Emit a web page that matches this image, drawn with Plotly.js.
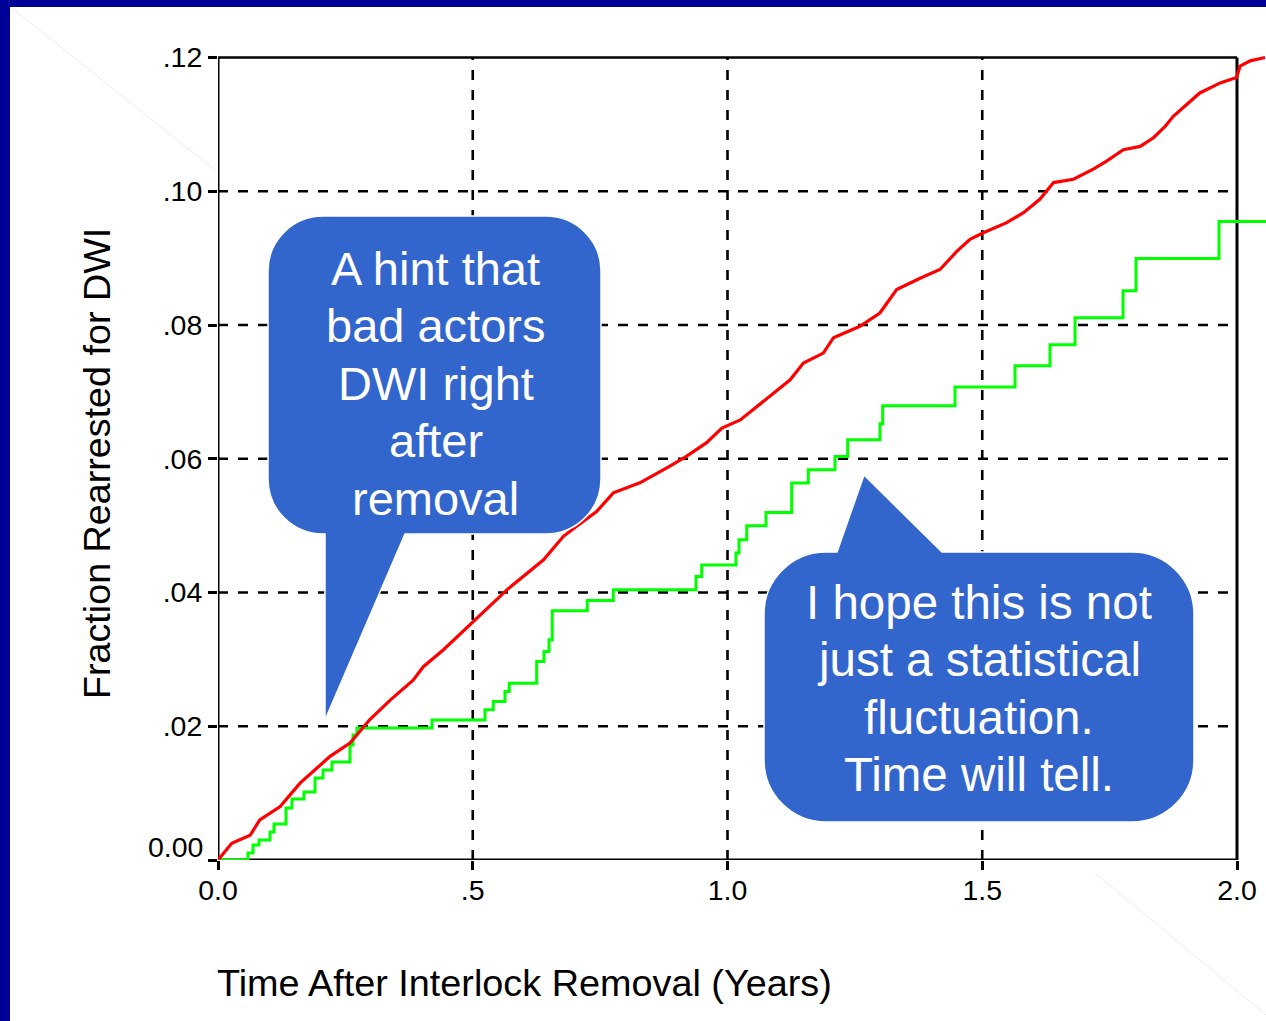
<!DOCTYPE html>
<html>
<head>
<meta charset="utf-8">
<script src="https://cdn.plot.ly/plotly-3.0.1.min.js"></script>
<style>
  html, body { margin: 0; padding: 0; background: #ffffff; }
  #chart { width: 1266px; height: 1021px; }
</style>
</head>
<body>
<div id="chart"></div>
<script>
// ---- Data ----
const xTickVals = [0, 0.5, 1.0, 1.5, 2.0];
const xTickText = ["0.0", ".5", "1.0", "1.5", "2.0"];
const yTickVals = [0, 0.02, 0.04, 0.06, 0.08, 0.10, 0.12];
const yTickText = ["", ".02", ".04", ".06", ".08", ".10", ".12"];
const yZeroLabel = "0.00";

// red series (all removals)
const redX = [0.000, 0.027, 0.063, 0.082, 0.122, 0.161, 0.220, 0.259, 0.298, 0.338,
  0.383, 0.403, 0.442, 0.498, 0.567, 0.639, 0.678, 0.704, 0.743, 0.776,
  0.828, 0.887, 0.920, 0.959, 0.989, 1.025, 1.057, 1.090, 1.123, 1.149,
  1.188, 1.208, 1.247, 1.260, 1.299, 1.332, 1.378, 1.417, 1.450, 1.476,
  1.502, 1.548, 1.581, 1.613, 1.640, 1.679, 1.718, 1.744, 1.777, 1.810,
  1.836, 1.859, 1.875, 1.895, 1.927, 1.967, 1.999, 2.006, 2.026, 2.055];
const redY = [0.0000, 0.0025, 0.0037, 0.0060, 0.0080, 0.0115, 0.0155, 0.0175, 0.0210, 0.0239,
  0.0269, 0.0289, 0.0314, 0.0354, 0.0404, 0.0449, 0.0484, 0.0499, 0.0521, 0.0549,
  0.0564, 0.0589, 0.0604, 0.0624, 0.0646, 0.0658, 0.0678, 0.0698, 0.0718, 0.0743,
  0.0758, 0.0781, 0.0793, 0.0798, 0.0818, 0.0853, 0.0870, 0.0883, 0.0910, 0.0928,
  0.0938, 0.0953, 0.0968, 0.0988, 0.1013, 0.1018, 0.1033, 0.1045, 0.1062, 0.1067,
  0.1080, 0.1097, 0.1112, 0.1125, 0.1147, 0.1162, 0.1170, 0.1187, 0.1195, 0.1200];

// green series (step function)
const greenX = [0.004, 0.0589, 0.0687, 0.0805, 0.1021, 0.1099, 0.1335, 0.1452, 0.1688, 0.1904,
  0.2061, 0.2237, 0.2591, 0.2650, 0.2728, 0.4200, 0.5240, 0.5403, 0.5633, 0.5717,
  0.6255, 0.6398, 0.6497, 0.6561, 0.7248, 0.7759, 0.9382, 0.9494, 1.0167, 1.0226,
  1.0377, 1.0756, 1.1260, 1.1586, 1.2110, 1.2359, 1.2993, 1.3046, 1.4465, 1.5643,
  1.6330, 1.6821, 1.7763, 1.8018, 1.9647, 2.057];
const greenY = [0, 0.00105, 0.00224, 0.00299, 0.00419, 0.00539, 0.00778, 0.00913, 0.01018, 0.01227,
  0.01347, 0.01466, 0.01721, 0.01870, 0.01975, 0.02095, 0.02245, 0.02369, 0.02518, 0.02644,
  0.02967, 0.03117, 0.03292, 0.03726, 0.03880, 0.04040, 0.04239, 0.04410, 0.04589, 0.04788,
  0.04998, 0.05197, 0.05637, 0.05836, 0.06035, 0.06285, 0.06524, 0.06793, 0.07073, 0.07392,
  0.07706, 0.08110, 0.08514, 0.08993, 0.09547, 0.09547];

const xTitle = "Time After Interlock Removal (Years)";
const yTitle = "Fraction Rearrested for DWI";
const leftCalloutLines = ["A hint that", "bad actors", "DWI right", "after", "removal"];
const rightCalloutLines = ["I hope this is not", "just a statistical", "fluctuation.", "Time will tell."];

// ---- Layout geometry ----
const W = 1266, H = 1021;
const M = {l: 218, r: 0, t: 48, b: 161};
const PW = W - M.l - M.r, PH = H - M.t - M.b;
const xMax = 2.0 * PW / (1237 - 218);
const yMax = 0.12 * PH / (860 - 57.5);
const px = v => (v - M.l) / PW;          // pixel x -> paper
const py = v => (H - M.b - v) / PH;      // pixel y -> paper
const FONT = '"Liberation Sans", Arial, Helvetica, sans-serif';
const CALLOUT = '#3366CC';
const NAVY = '#000099';

function pt(x, y) { return px(x).toFixed(5) + ',' + py(y).toFixed(5); }
function callout(x0, y0, x1, y1, r, tail) {
  const k = 0.5523 * r;
  let d = 'M' + pt(x0 + r, y0);
  if (tail.edge === 'top') {
    d += ' L' + pt(tail.a, y0) + ' L' + pt(tail.tip[0], tail.tip[1]) + ' L' + pt(tail.b, y0);
  }
  d += ' L' + pt(x1 - r, y0);
  d += ' C' + pt(x1 - r + k, y0) + ' ' + pt(x1, y0 + r - k) + ' ' + pt(x1, y0 + r);
  d += ' L' + pt(x1, y1 - r);
  d += ' C' + pt(x1, y1 - r + k) + ' ' + pt(x1 - r + k, y1) + ' ' + pt(x1 - r, y1);
  if (tail.edge === 'bottom') {
    d += ' L' + pt(tail.a, y1) + ' L' + pt(tail.tip[0], tail.tip[1]) + ' L' + pt(tail.b, y1);
  }
  d += ' L' + pt(x0 + r, y1);
  d += ' C' + pt(x0 + r - k, y1) + ' ' + pt(x0, y1 - r + k) + ' ' + pt(x0, y1 - r);
  d += ' L' + pt(x0, y0 + r);
  d += ' C' + pt(x0, y0 + r - k) + ' ' + pt(x0 + r - k, y0) + ' ' + pt(x0 + r, y0);
  d += ' Z';
  return d;
}

const shapes = [];
// slide border
shapes.push({type: 'rect', xref: 'paper', yref: 'paper', x0: px(0), x1: px(W), y0: py(0), y1: py(7),
  fillcolor: NAVY, line: {width: 0}, layer: 'above'});
shapes.push({type: 'rect', xref: 'paper', yref: 'paper', x0: px(0), x1: px(10), y0: py(0), y1: py(H),
  fillcolor: NAVY, line: {width: 0}, layer: 'above'});
// faint background diagonals
shapes.push({type: 'line', xref: 'paper', yref: 'paper', x0: px(12), y0: py(8), x1: px(215), y1: py(170),
  line: {color: '#ececec', width: 1}, layer: 'below'});
shapes.push({type: 'line', xref: 'paper', yref: 'paper', x0: px(1095), y0: py(873), x1: px(1266), y1: py(1015),
  line: {color: '#ececec', width: 1}, layer: 'below'});
// dashed grid
const DASH = '10px,10px';
[0.02, 0.04, 0.06, 0.08, 0.10].forEach(v => shapes.push({type: 'line', xref: 'x', yref: 'y',
  x0: 0, x1: 1.99, y0: v, y1: v, line: {color: '#000', width: 2.6, dash: DASH}, layer: 'below'}));
[0.5, 1.0, 1.5].forEach(v => shapes.push({type: 'line', xref: 'x', yref: 'y',
  x0: v, x1: v, y0: 0, y1: 0.12, line: {color: '#000', width: 2.6, dash: DASH}, layer: 'below'}));
// frame
shapes.push({type: 'line', xref: 'x', yref: 'y', x0: 0, x1: 2, y0: 0.12, y1: 0.12, line: {color: '#000', width: 2.6}, layer: 'below'});
shapes.push({type: 'line', xref: 'x', yref: 'y', x0: 2, x1: 2, y0: 0, y1: 0.12, line: {color: '#000', width: 3}, layer: 'below'});
shapes.push({type: 'line', xref: 'x', yref: 'y', x0: 0, x1: 0, y0: 0, y1: 0.12, line: {color: '#000', width: 3}, layer: 'below'});
shapes.push({type: 'line', xref: 'x', yref: 'y', x0: 0, x1: 2, y0: 0, y1: 0, line: {color: '#000', width: 3}, layer: 'below'});
// callouts
shapes.push({type: 'path', xref: 'paper', yref: 'paper', layer: 'above', fillcolor: CALLOUT,
  line: {color: '#ffffff', width: 1.5},
  path: callout(268, 216, 601, 534, 55, {edge: 'bottom', a: 405, tip: [325, 720], b: 325})});
shapes.push({type: 'path', xref: 'paper', yref: 'paper', layer: 'above', fillcolor: CALLOUT,
  line: {color: '#ffffff', width: 1.5},
  path: callout(764, 552, 1194, 822, 62, {edge: 'top', a: 837, tip: [864, 475], b: 942})});

const annotations = [];
leftCalloutLines.forEach((t, i) => annotations.push({xref: 'paper', yref: 'paper',
  x: px(435.5), y: py(268 + i * 57.5), xanchor: 'center', yanchor: 'middle', showarrow: false,
  text: t, font: {family: FONT, size: 47, color: '#ffffff'}}));
rightCalloutLines.forEach((t, i) => annotations.push({xref: 'paper', yref: 'paper',
  x: px(979), y: py(602 + i * 57.5), xanchor: 'center', yanchor: 'middle', showarrow: false,
  text: t, font: {family: FONT, size: 47.5, color: '#ffffff'}}));
annotations.push({xref: 'paper', yref: 'paper', x: px(215), y: py(983), xanchor: 'left', yanchor: 'middle',
  showarrow: false, text: xTitle, font: {family: FONT, size: 37.8, color: '#000'}});
annotations.push({xref: 'paper', yref: 'paper', x: px(97), y: py(464), xanchor: 'center', yanchor: 'middle',
  showarrow: false, textangle: -90, text: yTitle, font: {family: FONT, size: 37.7, color: '#000'}});
// "0.00" label sits slightly above the zero tick in the reference
annotations.push({xref: 'paper', yref: 'paper', x: px(205), y: py(847), xanchor: 'right', yanchor: 'middle',
  showarrow: false, text: yZeroLabel, font: {family: FONT, size: 28.5, color: '#000'}});

const traces = [
  {x: greenX, y: greenY, type: 'scatter', mode: 'lines', line: {color: '#00FF00', width: 3, shape: 'hv'},
   hoverinfo: 'skip', cliponaxis: false},
  {x: redX, y: redY, type: 'scatter', mode: 'lines', line: {color: '#FF0000', width: 3.2},
   hoverinfo: 'skip', cliponaxis: false}
];

const layout = {
  width: W, height: H,
  margin: M,
  paper_bgcolor: '#ffffff', plot_bgcolor: 'rgba(0,0,0,0)',
  showlegend: false,
  font: {family: FONT, color: '#000'},
  xaxis: {range: [0, xMax], tickvals: xTickVals, ticktext: xTickText, ticks: 'outside', ticklen: 9,
    tickwidth: 3, tickcolor: '#000', showgrid: false, zeroline: false, showline: false,
    ticklabelstandoff: -4,
    tickfont: {family: FONT, size: 28.5, color: '#000'}, fixedrange: true},
  yaxis: {range: [0, yMax], tickvals: yTickVals, ticktext: yTickText, ticks: 'outside', ticklen: 9,
    tickwidth: 3, tickcolor: '#000', showgrid: false, zeroline: false, showline: false,
    tickfont: {family: FONT, size: 28.5, color: '#000'}, fixedrange: true},
  shapes: shapes,
  annotations: annotations
};

Plotly.newPlot('chart', traces, layout, {displayModeBar: false, staticPlot: true});
</script>
</body>
</html>
